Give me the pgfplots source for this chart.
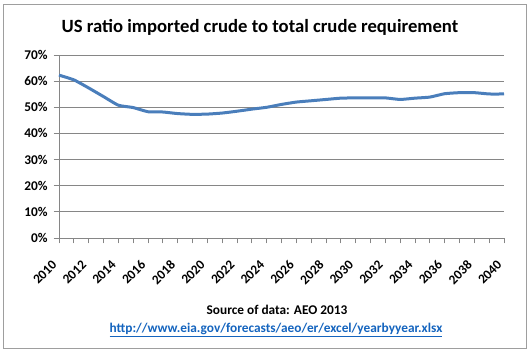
\documentclass[border=0pt]{standalone}
\usepackage{fontspec}
\setmainfont{Carlito}
\usepackage{pgfplots}
\pgfplotsset{compat=1.18}
\definecolor{linblue}{RGB}{74,126,187}
\definecolor{gridgray}{RGB}{134,134,134}
\definecolor{urlblue}{RGB}{20,100,190}
\begin{document}
\begin{tikzpicture}
\useasboundingbox (-44.25pt,-87.75pt) rectangle (354pt,178.5pt);
\draw[gridgray!80, line width=0.75pt] (-41.25pt,-82.5pt) rectangle (350.25pt,175.5pt);
\begin{axis}[
  at={(0,0)}, anchor=south west,
  scale only axis, width=333.75pt, height=137.25pt,
  xmin=2010, xmax=2040, ymin=0, ymax=70,
  axis lines=left, axis line style={-, gridgray, line width=0.6pt},
  xtick={2010,2012,...,2040}, minor xtick={2011,2013,...,2039},
  ytick={0,10,...,70},
  ymajorgrids, grid style={gridgray, line width=0.6pt},
  tick style={gridgray, line width=0.6pt},
  tick align=outside, major tick length=4pt, minor tick length=4pt,
  yticklabel={\pgfmathprintnumber{\tick}\%},
  /pgf/number format/assume math mode=true,
  /pgf/number format/1000 sep={},
  ticklabel style={font=\bfseries\fontsize{10}{12}\selectfont},
  xticklabel style={yshift=-12pt, xshift=-1pt, rotate=45, anchor=east},
  yticklabel style={xshift=-1pt},
  clip=false,
]
\addplot[linblue, line width=2.25pt, smooth, tension=0.3] coordinates {
(2010,62.3) (2011,60.5) (2012,57.4) (2013,54.1) (2014,50.8) (2015,49.9)
(2016,48.3) (2017,48.2) (2018,47.6) (2019,47.3) (2020,47.4) (2021,47.8)
(2022,48.5) (2023,49.3) (2024,50.0) (2025,51.1) (2026,52.0) (2027,52.5)
(2028,53.0) (2029,53.5) (2030,53.6) (2031,53.6) (2032,53.6) (2033,53.0)
(2034,53.5) (2035,53.9) (2036,55.2) (2037,55.6) (2038,55.6) (2039,55.1)
(2040,55.1)
};
\end{axis}
\node[font=\bfseries\fontsize{14}{17}\selectfont] at (150.75pt,158.25pt) {US ratio imported crude to total crude requirement};
\node[font=\bfseries\fontsize{10}{12}\selectfont] at (163.5pt,-54pt) {Source of data: AEO 2013};
\node[font=\bfseries\fontsize{10}{12}\selectfont, text=urlblue] at (162.75pt,-69pt) {\underline{http://www.eia.gov/forecasts/aeo/er/excel/yearbyyear.xlsx}};
\end{tikzpicture}
\end{document}
